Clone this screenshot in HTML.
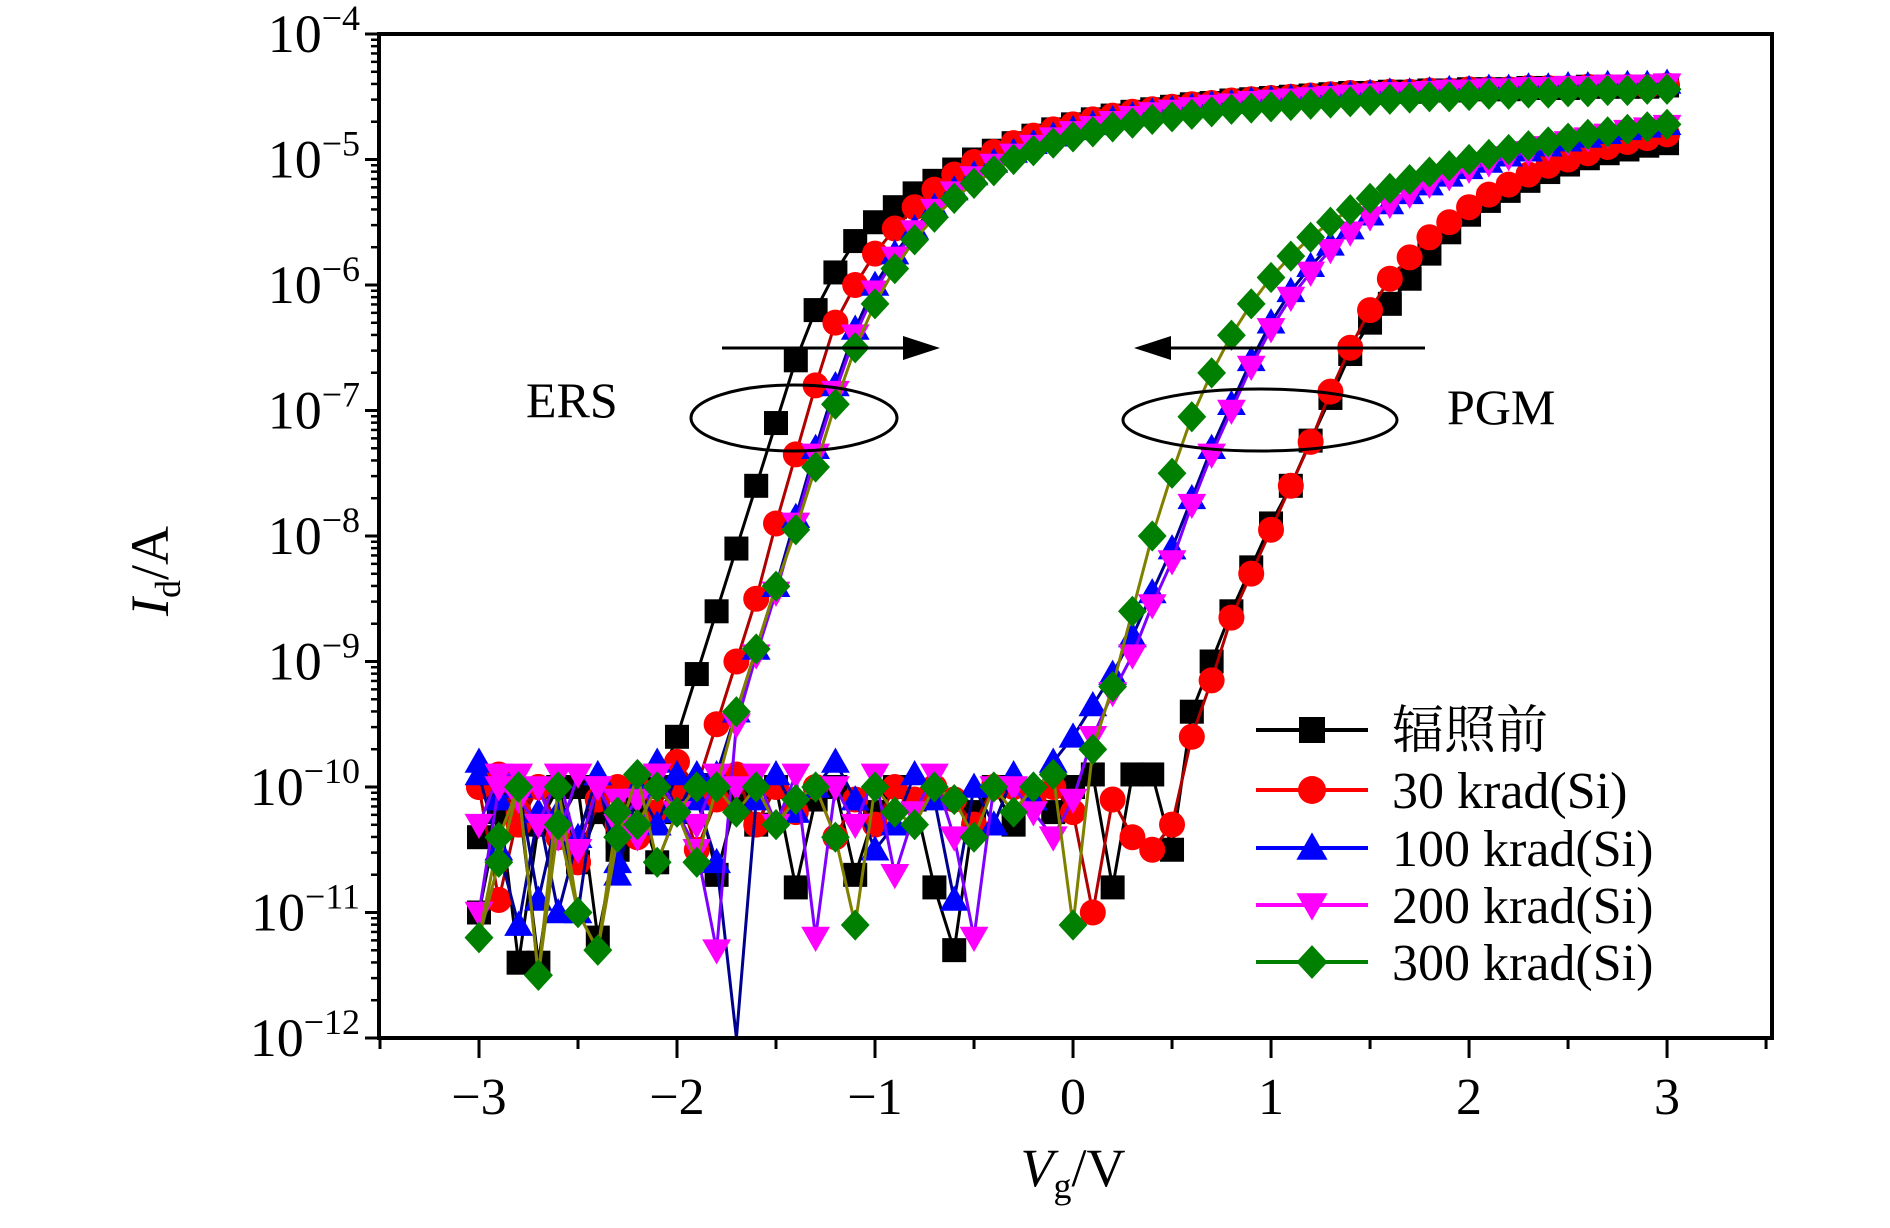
<!DOCTYPE html>
<html><head><meta charset="utf-8"><style>
html,body{margin:0;padding:0;background:#fff;}
svg{display:block;}
text{font-family:"Liberation Serif","Noto Serif CJK SC",serif;fill:#000;}
</style></head><body>
<svg id="chart" width="1890" height="1228" viewBox="0 0 1890 1228" xmlns="http://www.w3.org/2000/svg">
<g id="plot"></g>
<g id="axes"></g>
<g id="annot">
  <line x1="722" y1="348" x2="912" y2="348" stroke="#000" stroke-width="3"/>
  <polygon points="940,348 903,336 903,360" fill="#000"/>
  <line x1="1425" y1="348" x2="1160" y2="348" stroke="#000" stroke-width="3"/>
  <polygon points="1134,348 1171,336 1171,360" fill="#000"/>
  <ellipse cx="794" cy="418" rx="103" ry="33" fill="none" stroke="#000" stroke-width="3"/>
  <ellipse cx="1260" cy="420" rx="137" ry="31" fill="none" stroke="#000" stroke-width="3"/>
  <text x="526" y="417" font-size="50">ERS</text>
  <text x="1447" y="424" font-size="50">PGM</text>
</g>
<g id="legend"></g>
</svg>
<script>
const xVals=[-3.0,-2.9,-2.8,-2.7,-2.6,-2.5,-2.4,-2.3,-2.2,-2.1,-2.0,-1.9,-1.8,-1.7,-1.6,-1.5,-1.4,-1.3,-1.2,-1.1,-1.0,-0.9,-0.8,-0.7,-0.6,-0.5,-0.4,-0.3,-0.2,-0.1,0.0,0.1,0.2,0.3,0.4,0.5,0.6,0.7,0.8,0.9,1.0,1.1,1.2,1.3,1.4,1.5,1.6,1.7,1.8,1.9,2.0,2.1,2.2,2.3,2.4,2.5,2.6,2.7,2.8,2.9,3.0];
const seriesNames=["辐照前","30 krad(Si)","100 krad(Si)","200 krad(Si)","300 krad(Si)"];
// log10(Id) values, ERS (forward) branch
const ers0=[-10.4,-10.1,-11.4,-10.3,-10.0,-10.6,-10.2,-10.5,-10.1,-10.0,-9.6,-9.1,-8.6,-8.1,-7.6,-7.1,-6.6,-6.2,-5.9,-5.65,-5.5,-5.38,-5.27,-5.17,-5.08,-5.0,-4.93,-4.87,-4.81,-4.76,-4.72,-4.68,-4.65,-4.62,-4.6,-4.58,-4.56,-4.55,-4.53,-4.52,-4.51,-4.5,-4.49,-4.48,-4.47,-4.47,-4.46,-4.46,-4.45,-4.45,-4.44,-4.44,-4.44,-4.43,-4.43,-4.43,-4.42,-4.42,-4.42,-4.42,-4.41];
const ers30=[-10.0,-9.9,-10.3,-10.0,-10.4,-10.6,-10.1,-10.3,-10.0,-10.2,-9.8,-10.0,-9.5,-9.0,-8.5,-7.9,-7.35,-6.8,-6.3,-6.0,-5.75,-5.55,-5.38,-5.24,-5.12,-5.02,-4.94,-4.87,-4.81,-4.76,-4.72,-4.68,-4.65,-4.62,-4.6,-4.58,-4.56,-4.55,-4.53,-4.52,-4.51,-4.5,-4.49,-4.48,-4.47,-4.47,-4.46,-4.46,-4.45,-4.45,-4.44,-4.44,-4.44,-4.43,-4.43,-4.43,-4.42,-4.42,-4.42,-4.42,-4.41];
const ers100=[-9.8,-10.1,-10.0,-10.9,-10.2,-11.0,-9.9,-10.6,-10.0,-9.8,-10.2,-9.9,-9.9,-9.4,-8.9,-8.4,-7.85,-7.3,-6.8,-6.35,-6.0,-5.75,-5.55,-5.38,-5.24,-5.12,-5.02,-4.94,-4.87,-4.81,-4.76,-4.72,-4.68,-4.65,-4.62,-4.6,-4.58,-4.56,-4.55,-4.53,-4.52,-4.51,-4.5,-4.49,-4.48,-4.47,-4.46,-4.46,-4.45,-4.44,-4.44,-4.43,-4.43,-4.42,-4.42,-4.41,-4.41,-4.4,-4.4,-4.4,-4.39];
const ers200=[-10.3,-9.9,-9.9,-10.0,-10.4,-9.9,-10.0,-10.3,-10.1,-9.9,-10.2,-10.5,-11.3,-9.5,-8.95,-8.45,-7.9,-7.35,-6.85,-6.4,-6.05,-5.78,-5.57,-5.4,-5.26,-5.14,-5.04,-4.96,-4.89,-4.83,-4.78,-4.74,-4.7,-4.66,-4.63,-4.61,-4.59,-4.57,-4.56,-4.54,-4.53,-4.52,-4.51,-4.5,-4.49,-4.48,-4.47,-4.47,-4.46,-4.45,-4.45,-4.44,-4.44,-4.43,-4.43,-4.42,-4.42,-4.41,-4.41,-4.41,-4.4];
const ers300=[-11.2,-10.6,-10.0,-11.5,-10.3,-11.0,-11.3,-10.4,-9.9,-10.6,-10.2,-10.0,-10.0,-9.4,-8.9,-8.4,-7.95,-7.45,-6.95,-6.5,-6.15,-5.87,-5.64,-5.46,-5.31,-5.19,-5.09,-5.0,-4.93,-4.87,-4.82,-4.78,-4.74,-4.71,-4.68,-4.66,-4.64,-4.62,-4.6,-4.59,-4.58,-4.57,-4.56,-4.55,-4.54,-4.53,-4.52,-4.51,-4.5,-4.5,-4.49,-4.48,-4.48,-4.47,-4.47,-4.46,-4.46,-4.45,-4.45,-4.44,-4.44];
// log10(Id) values, PGM (reverse) branch
const pgm0=[-11.0,-10.2,-10.1,-11.4,-10.3,-10.0,-11.2,-10.4,-10.1,-10.6,-10.2,-10.0,-10.7,-10.1,-10.3,-10.0,-10.8,-10.1,-10.0,-10.7,-10.2,-10.0,-10.1,-10.8,-11.3,-10.2,-10.0,-10.3,-10.1,-10.2,-10.0,-9.9,-10.8,-9.9,-9.9,-10.5,-9.4,-9.0,-8.6,-8.25,-7.9,-7.6,-7.24,-6.9,-6.55,-6.3,-6.15,-5.95,-5.75,-5.58,-5.44,-5.33,-5.25,-5.17,-5.1,-5.04,-4.99,-4.95,-4.92,-4.89,-4.87];
const pgm30=[-10.0,-10.9,-10.2,-10.0,-10.3,-10.6,-10.1,-10.0,-10.4,-10.2,-10.0,-10.5,-10.1,-9.9,-10.3,-10.0,-10.2,-10.0,-10.4,-10.1,-10.3,-10.0,-10.1,-10.0,-10.1,-10.3,-10.0,-10.0,-10.1,-10.0,-10.2,-11.0,-10.1,-10.4,-10.5,-10.3,-9.6,-9.15,-8.65,-8.3,-7.95,-7.6,-7.25,-6.85,-6.5,-6.2,-5.95,-5.78,-5.62,-5.5,-5.38,-5.28,-5.2,-5.12,-5.05,-5.0,-4.95,-4.9,-4.86,-4.83,-4.8];
const pgm100=[-9.9,-10.5,-11.1,-10.2,-11.0,-10.4,-9.9,-10.7,-10.0,-10.3,-9.9,-10.1,-10.6,-12.0,-10.1,-9.9,-10.2,-10.0,-9.8,-10.1,-10.5,-10.3,-9.9,-10.1,-10.9,-10.0,-10.3,-9.9,-10.1,-9.8,-9.6,-9.35,-9.1,-8.8,-8.45,-8.1,-7.7,-7.3,-6.95,-6.6,-6.3,-6.05,-5.85,-5.68,-5.55,-5.44,-5.35,-5.27,-5.2,-5.13,-5.07,-5.02,-4.97,-4.93,-4.89,-4.85,-4.82,-4.79,-4.76,-4.74,-4.72];
const pgm200=[-11.0,-10.0,-10.1,-10.3,-9.9,-10.5,-10.0,-10.1,-10.4,-9.9,-10.2,-10.3,-9.9,-10.0,-9.9,-10.3,-9.9,-11.2,-10.0,-10.3,-9.9,-10.7,-10.2,-9.9,-10.4,-11.2,-10.0,-10.0,-10.2,-10.4,-10.1,-9.6,-9.25,-8.95,-8.55,-8.2,-7.75,-7.35,-7.0,-6.65,-6.35,-6.1,-5.9,-5.72,-5.58,-5.46,-5.36,-5.28,-5.2,-5.14,-5.08,-5.03,-4.98,-4.94,-4.9,-4.86,-4.83,-4.8,-4.77,-4.75,-4.73];
const pgm300=[-11.2,-10.4,-10.0,-11.5,-10.0,-11.0,-11.3,-10.2,-10.3,-10.0,-10.2,-10.6,-10.0,-10.2,-10.0,-10.3,-10.1,-10.0,-10.4,-11.1,-10.0,-10.2,-10.3,-10.0,-10.1,-10.4,-10.0,-10.2,-10.0,-9.9,-11.1,-9.7,-9.2,-8.6,-8.0,-7.5,-7.05,-6.7,-6.4,-6.15,-5.94,-5.77,-5.62,-5.5,-5.4,-5.31,-5.23,-5.16,-5.1,-5.05,-5.0,-4.96,-4.92,-4.89,-4.86,-4.83,-4.8,-4.78,-4.76,-4.74,-4.72];
const xTickVals=[-3,-2,-1,0,1,2,3];
const xTickLabels=["−3","−2","−1","0","1","2","3"];
const yTickExps=[-4,-5,-6,-7,-8,-9,-10,-11,-12];

const ersAll=[ers0,ers30,ers100,ers200,ers300];
const pgmAll=[pgm0,pgm30,pgm100,pgm200,pgm300];
const markerColors=["#000000","#ff0000","#0000ff","#ff00ff","#008000"];
const lineColors=["#000000","#b00000","#000090","#8000ff","#808000"];
const markerShapes=["square","circle","up","down","diamond"];

const NS="http://www.w3.org/2000/svg";
const L=379,R=1772,T=34,B=1038;
const xMin=-3.505,xMax=3.53,yMin=-12,yMax=-4;
function sx(v){return L+(v-xMin)/(xMax-xMin)*(R-L);}
function sy(v){return B-(Math.max(v,yMin)-yMin)/(yMax-yMin)*(B-T);}
function mk(tag,attrs,parent){const e=document.createElementNS(NS,tag);for(const k in attrs)e.setAttribute(k,attrs[k]);parent.appendChild(e);return e;}
function marker(shape,cx,cy,s,color,parent){
  let e;
  if(shape==="square")e=mk("rect",{x:cx-s/2,y:cy-s/2,width:s,height:s,fill:color},parent);
  else if(shape==="circle")e=mk("circle",{cx:cx,cy:cy,r:s/2+1,fill:color},parent);
  else if(shape==="up")e=mk("polygon",{points:`${cx},${cy-s*0.6} ${cx-s*0.6},${cy+s*0.45} ${cx+s*0.6},${cy+s*0.45}`,fill:color},parent);
  else if(shape==="down")e=mk("polygon",{points:`${cx},${cy+s*0.6} ${cx-s*0.6},${cy-s*0.45} ${cx+s*0.6},${cy-s*0.45}`,fill:color},parent);
  else e=mk("polygon",{points:`${cx},${cy-s*0.65} ${cx+s*0.6},${cy} ${cx},${cy+s*0.65} ${cx-s*0.6},${cy}`,fill:color},parent);
  return e;
}
const plot=document.getElementById("plot");
for(let s=0;s<5;s++){
  const g=mk("g",{},plot);
  
  
  [ersAll[s],pgmAll[s]].forEach((arr,bi)=>{
    const pts=arr.map((v,i)=>sx(xVals[i]).toFixed(1)+","+sy(v).toFixed(1)).join(" ");
    const pl=mk("polyline",{points:pts,fill:"none",stroke:lineColors[s],"stroke-width":3},g);
    
    
  });
  [ersAll[s],pgmAll[s]].forEach((arr,bi)=>{
    arr.forEach((v,i)=>{
      if(v<=yMin)return;
      const m=marker(markerShapes[s],sx(xVals[i]),sy(v),24,markerColors[s],g);
      
      
    });
  });
}
const ax=document.getElementById("axes");
const frame=mk("rect",{x:L,y:T,width:R-L,height:B-T,fill:"none",stroke:"#000","stroke-width":4},ax);


for(let v=-3.5;v<=3.51;v+=0.5){
  const major=Math.abs(v-Math.round(v))<1e-6;
  mk("line",{x1:sx(v),x2:sx(v),y1:B,y2:B+(major?20:11),stroke:"#000","stroke-width":3},ax);
}
xTickVals.forEach((v,i)=>{
  const t=mk("text",{x:sx(v),y:1114,"font-size":52,"text-anchor":"middle"},ax);
  t.textContent=xTickLabels[i];
  
  
});
yTickExps.forEach(e=>{
  mk("line",{x1:L-14,x2:L,y1:sy(e),y2:sy(e),stroke:"#000","stroke-width":3},ax);
  if(e>-12){for(let k=2;k<=9;k++){const yy=sy(e-1+Math.log10(k));mk("line",{x1:L-8,x2:L,y1:yy,y2:yy,stroke:"#000","stroke-width":2.5},ax);}}
  const t=mk("text",{x:360,y:sy(e)+18,"font-size":54,"text-anchor":"end"},ax);
  
  
  const a=mk("tspan",{},t);a.textContent="10";
  const b=mk("tspan",{dy:-22,"font-size":36},t);b.textContent="−"+(-e);
});
const xl=mk("text",{x:1073,y:1186,"font-size":54,"text-anchor":"middle"},ax);


xl.innerHTML='<tspan font-style="italic">V</tspan><tspan font-size="36" dy="12">g</tspan><tspan dy="-12">/V</tspan>';
const yl=mk("text",{x:0,y:0,"font-size":54,"text-anchor":"middle",transform:"translate(168,571) rotate(-90)"},ax);


yl.innerHTML='<tspan font-style="italic">I</tspan><tspan font-size="36" dy="12">d</tspan><tspan dy="-12">/A</tspan>';
const lg=document.getElementById("legend");
const rowY=[730,790,848,905,962];
seriesNames.forEach((n,s)=>{
  const g=mk("g",{},lg);
  
  
  mk("line",{x1:1256,x2:1368,y1:rowY[s],y2:rowY[s],stroke:markerColors[s],"stroke-width":4},g);
  marker(markerShapes[s],1312,rowY[s],26,markerColors[s],g);
  const t=mk("text",{x:1392,y:rowY[s]+18,"font-size":52},g);
  t.textContent=n;
});
</script>
</body></html>
